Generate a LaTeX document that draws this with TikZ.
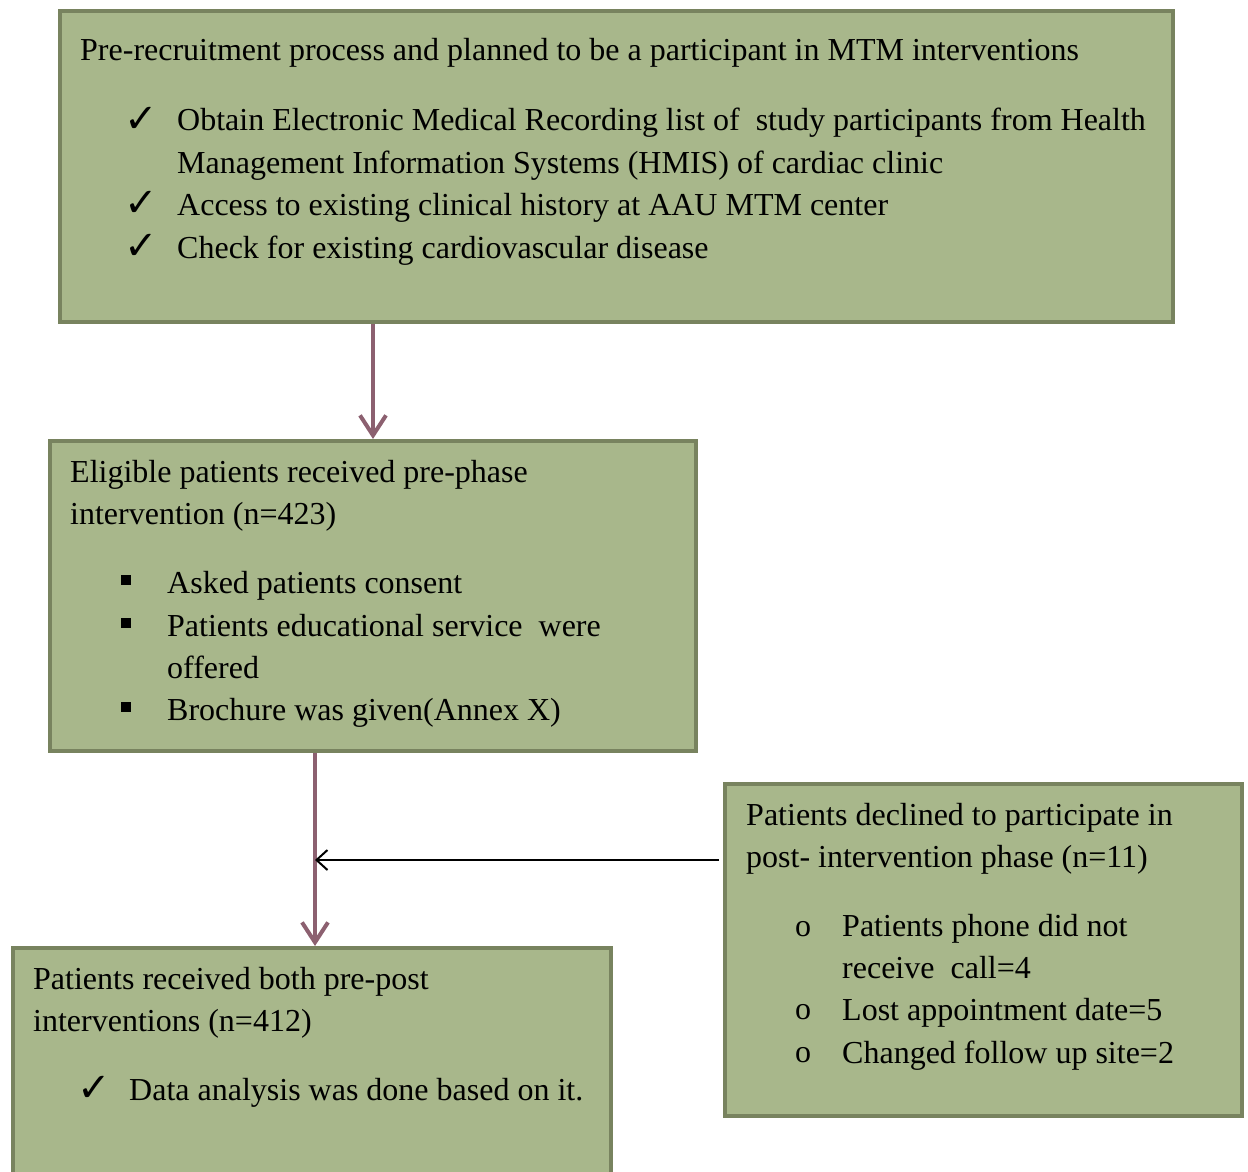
\documentclass[tikz,border=0pt]{standalone}
\usepackage{fontspec}
\setmainfont{Liberation Serif}
\newfontfamily\symfont{DejaVu Sans}
\usetikzlibrary{arrows.meta}
\definecolor{boxfill}{RGB}{168,183,139}
\definecolor{boxedge}{RGB}{120,131,95}
\definecolor{arrowc}{RGB}{140,96,112}
\begin{document}
\begin{tikzpicture}[x=1pt,y=-1pt,
  box/.style={draw=boxedge, fill=boxfill, line width=4pt, anchor=north west, inner sep=0pt},
  txt/.style={anchor=west, inner sep=0pt, font=\fontsize{32}{42}\selectfont, text height=22pt, text depth=7pt},
  chk/.style={anchor=center, inner sep=0pt, font=\symfont\bfseries\fontsize{40}{40}\selectfont},
  sqb/.style={anchor=center, inner sep=0pt, fill=black, minimum width=10pt, minimum height=10pt},
  cib/.style={anchor=center, inner sep=0pt, font=\fontsize{32}{32}\selectfont},
  flow/.style={draw=arrowc, line width=4pt, -{Straight Barb[length=20pt,width=26pt,line width=4pt]}},
  side/.style={draw=black, line width=2pt, -{Straight Barb[length=11pt,width=20pt,line width=2pt]}}]
\useasboundingbox (0,0) rectangle (1248,1171);
\clip (0,0) rectangle (1248,1171);

% boxes
\node[box, minimum width=1113pt, minimum height=311pt] (b1) at (58,9) {};
\node[box, minimum width=646pt, minimum height=310pt] (b2) at (48,439) {};
\node[box, minimum width=598pt, minimum height=240pt] (b3) at (11,946) {};
\node[box, minimum width=517pt, minimum height=332pt] (b4) at (723,782) {};

% box 1 text
\node[txt] (t1) at (80,53) {Pre-recruitment process and planned to be a participant in MTM interventions};
\node[chk] (c11) at (141,120) {✓};
\node[txt] (t11) at (177,122.5) {Obtain Electronic Medical Recording list of\ \ study participants from Health};
\node[txt] (t12) at (177,165.5) {Management Information Systems (HMIS) of cardiac clinic};
\node[chk] (c12) at (141,204) {✓};
\node[txt] (t13) at (177,207.5) {Access to existing clinical history at AAU MTM center};
\node[chk] (c13) at (141,247) {✓};
\node[txt] (t14) at (177,250.5) {Check for existing cardiovascular disease};

% box 2 text
\node[txt] (t2a) at (70,474.5) {Eligible patients received pre-phase};
\node[txt] (t2b) at (70,516.5) {intervention (n=423)};
\node[sqb] (s21) at (126,580) {};
\node[txt] (t21) at (167,585.5) {Asked patients consent};
\node[sqb] (s22) at (126,623) {};
\node[txt] (t22) at (167,628.5) {Patients educational service\ \ were};
\node[txt] (t23) at (167,670.5) {offered};
\node[sqb] (s23) at (126,707) {};
\node[txt] (t24) at (167,712.5) {Brochure was given(Annex X)};

% box 3 text
\node[txt] (t3a) at (33,981.5) {Patients received both pre-post};
\node[txt] (t3b) at (33,1023.5) {interventions (n=412)};
\node[chk] (c31) at (94,1089) {✓};
\node[txt] (t31) at (129,1092.5) {Data analysis was done based on it.};

% box 4 text
\node[txt] (t4a) at (746,817.5) {Patients declined to participate in};
\node[txt] (t4b) at (746,859.5) {post- intervention phase (n=11)};
\node[cib] (o41) at (803,929) {o};
\node[txt] (t41) at (842,928.5) {Patients phone did not};
\node[txt] (t42) at (842,970.5) {receive\ \ call=4};
\node[cib] (o42) at (803,1012) {o};
\node[txt] (t43) at (842,1012.5) {Lost appointment date=5};
\node[cib] (o43) at (803,1055) {o};
\node[txt] (t44) at (842,1055.5) {Changed follow up site=2};

% connectors
\coordinate (x1) at (373,0);
\coordinate (x2) at (315,0);
\coordinate (m) at (315,860);
\draw[flow] (b1.south -| x1) -- (b2.north -| x1);
\draw[flow] (b2.south -| x2) -- (b3.north -| x2);
\draw[side] ([xshift=-4pt]b4.west |- m) -- (m);
\end{tikzpicture}
\end{document}
